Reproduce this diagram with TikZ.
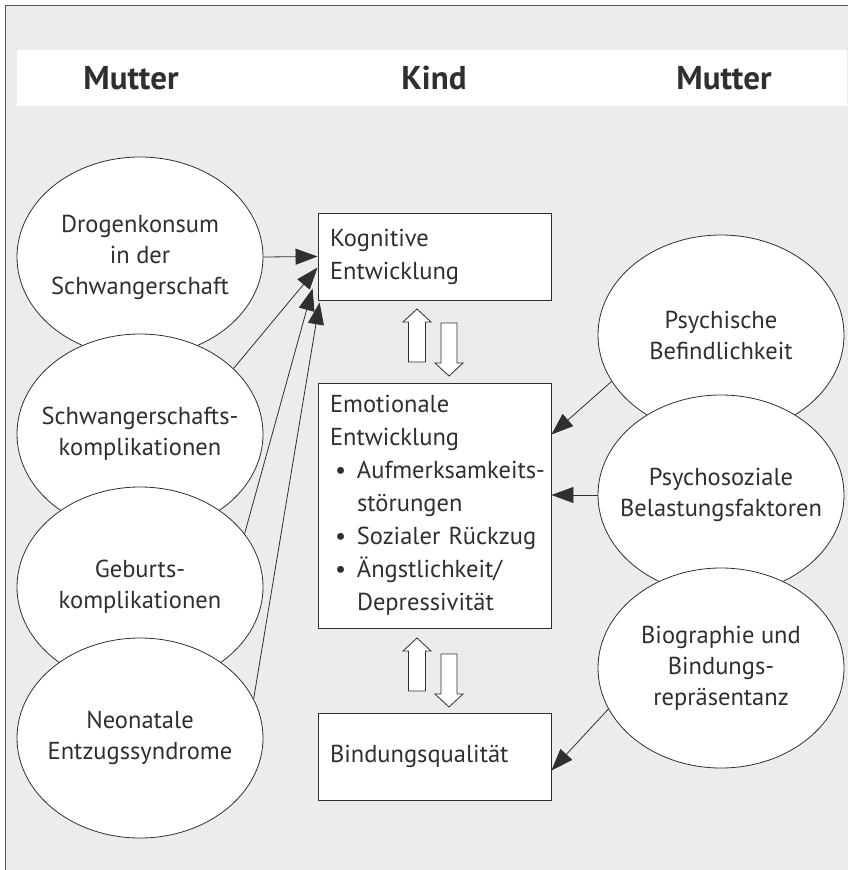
\documentclass[tikz,border=0pt]{standalone}
\usepackage{fontspec}
\setmainfont{PT Sans}
\usetikzlibrary{shapes.geometric,arrows.meta,positioning}

\definecolor{ink}{HTML}{332E2E}
\definecolor{paper}{HTML}{ECECEC}

\newcommand{\bul}{\makebox[27pt][l]{\hspace{5pt}\textbullet}}
\newcommand{\ein}{\hspace*{27pt}}

\tikzset{
  oval/.style={ellipse,draw=ink,line width=0.8pt,fill=white,minimum width=246pt,minimum height=200pt,
    inner xsep=-30pt,inner ysep=0pt,align=center,text=ink,font=\fontsize{24.5}{31}\selectfont},
  kbox/.style={rectangle,draw=ink,line width=0.9pt,fill=white,minimum width=233pt,text width=209pt,
    inner sep=0pt,align=left,text=ink,font=\fontsize{24.5}{33}\selectfont},
  pfeil/.style={draw=ink,line width=0.8pt,-{Triangle[length=22pt,width=16pt]}},
  hochpfeil/.pic={\draw[ink,line width=0.8pt,fill=white] (0,0) -- (14,13) -- (8.5,13) -- (8.5,53)
    -- (-8.5,53) -- (-8.5,13) -- (-14,13) -- cycle;},
  runterpfeil/.pic={\draw[ink,line width=0.8pt,fill=white] (0,0) -- (14,-13) -- (8,-13) -- (8,-53)
    -- (-8,-53) -- (-8,-13) -- (-14,-13) -- cycle;},
  kopf/.style={text=ink,font=\fontsize{33}{38}\selectfont\bfseries}
}

\begin{document}
\begin{tikzpicture}[x=1pt,y=-1pt]
\useasboundingbox (0,0) rectangle (847,870);
\draw[ink!80,line width=1pt,fill=paper] (5,5) rectangle (860,880);
\fill[white] (17,50) rectangle (847,106);

% Kopfzeile
\node[kopf] (mutterL) at (131,78) {Mutter};
\node[kopf] (kind) at (434,78) {Kind};
\node[kopf] (mutterR) at (724,78) {Mutter};

% Kind
\node[kbox,minimum height=87pt] (kog) at (434.5,256.5) {Kognitive\\Entwicklung};
\node[kbox,minimum height=245pt] (emo) at (434.5,505.5)
  {Emotionale\\Entwicklung\\\bul\mbox{Aufmerksamkeits-}\\\ein störungen\\\bul Sozialer Rückzug\\\bul Ängstlichkeit/\\\ein Depressivität};
\node[kbox,minimum height=87pt] (bind) at (434.5,756.5) {Bindungsqualität};

\pic at (417,309) {hochpfeil};
\pic at (449,376) {runterpfeil};
\pic at (417,638) {hochpfeil};
\pic at (449,707) {runterpfeil};

% Mutter links
\node[oval] (drogen) at (140,257) {Drogenkonsum\\in der\\Schwangerschaft};
\node[oval] (schwanger) at (140,434) {Schwangerschafts-\\komplikationen};
\node[oval] (geburt) at (140,587) {Geburts-\\komplikationen};
\node[oval] (neonatal) at (140,738) {Neonatale\\Entzugssyndrome};

% Mutter rechts
\node[oval] (psych) at (721,335) {Psychische\\Befindlichkeit};
\node[oval] (sozial) at (721,495) {Psychosoziale\\Belastungsfaktoren};
\node[oval] (bio) at (721,668) {Biographie und\\Bindungs-\\repräsentanz};

\draw[pfeil] (drogen.east) -- (kog.west);
\draw[pfeil] (schwanger.35) -- ([yshift=-11pt]kog.west);
\draw[pfeil] (geburt.27) -- ([shift={(-5pt,-32pt)}]kog.west);
\draw[pfeil] (neonatal.19) -- ([shift={(2pt,-2pt)}]kog.south west);

\draw[pfeil] (psych.203) -- ([yshift=-52pt]emo.north east);
\draw[pfeil] (sozial.west) -- (sozial.west -| emo.east);
\draw[pfeil] (bio.200) -- ([yshift=-14pt]bind.east);
\end{tikzpicture}
\end{document}
